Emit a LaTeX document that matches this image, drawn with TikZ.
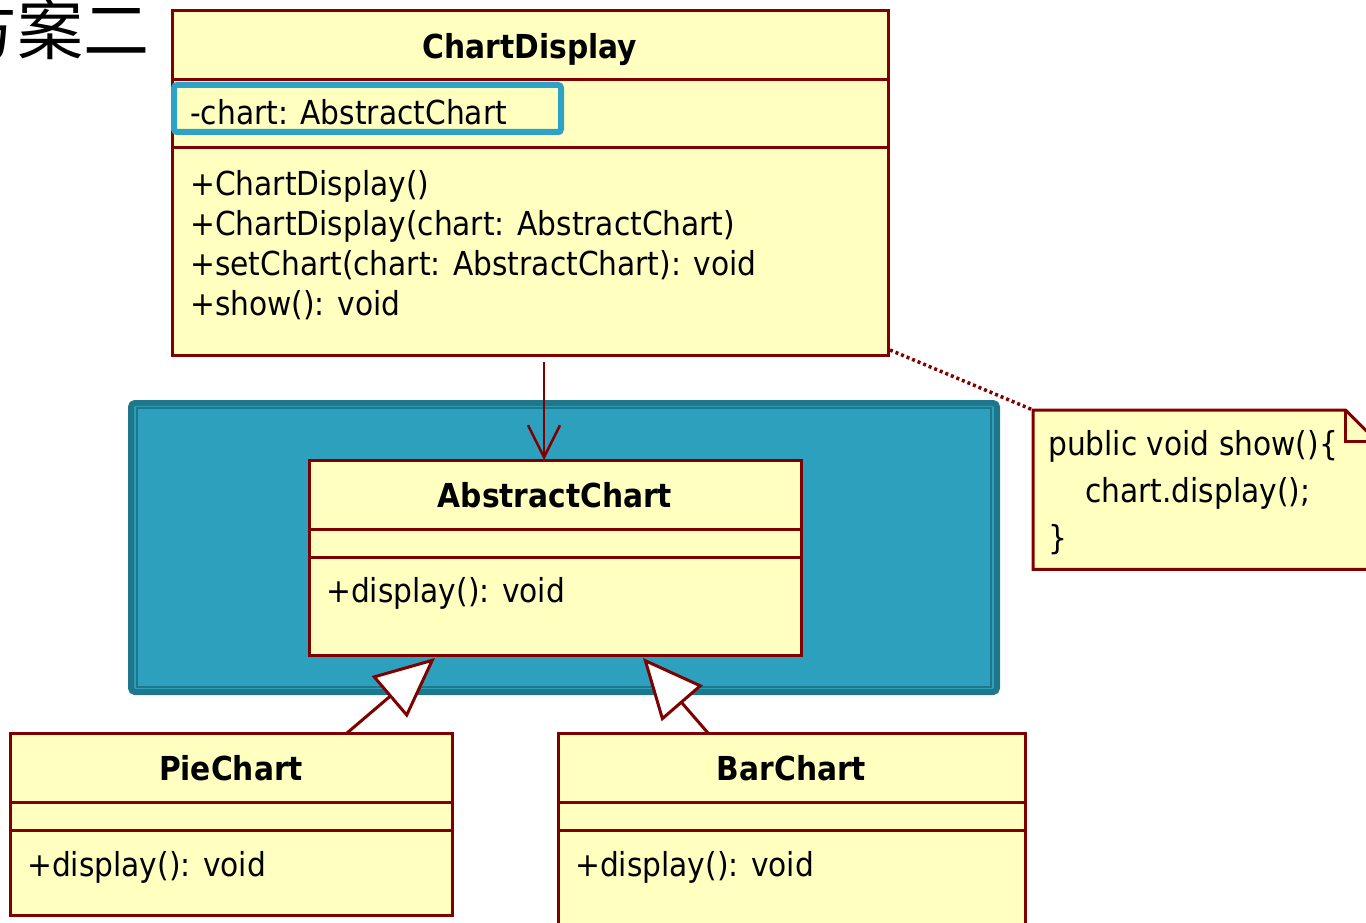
\documentclass[tikz,border=0pt]{standalone}
\usepackage{fontspec}
\setmainfont{DejaVu Sans Condensed}
\newfontfamily\cjk{Noto Sans CJK SC}
\usetikzlibrary{positioning}
\usetikzlibrary{arrows.meta}
\usetikzlibrary{shadows}
\definecolor{umlred}{HTML}{800000}
\definecolor{umlfill}{HTML}{FFFFC0}
\definecolor{pkgfill}{HTML}{2DA0BE}
\definecolor{pkgdark}{HTML}{1F778B}
\definecolor{hilite}{HTML}{2EA2C4}
\tikzset{
classpart/.style={ % One compartment of a class box
draw=umlred, line width=3pt,
fill=umlfill,
inner sep=0pt, outer sep=0pt},
classname/.style={classpart, % Top compartment with the bold name
minimum height=69pt,
text depth=0pt,
font=\fontsize{33}{40}\selectfont\bfseries},
member/.style={ % Attribute and operation texts
inner sep=0pt,
align=left,
font=\fontsize{33}{40}\selectfont},
depend/.style={ % Association arrow
draw=umlred, line width=2.5pt,
-{Straight Barb[length=32pt, width=32pt, line width=2.5pt]}},
inherit/.style={ % Generalisation arrow
draw=umlred, line width=3pt,
-{Triangle[length=60pt, width=54pt, fill=white, line width=3pt]}},
notelink/.style={ % Note anchor line
draw=umlred, line width=3.5pt,
dash pattern=on 3pt off 3pt}}

\begin{document}
\begin{tikzpicture}[x=1pt, y=-1pt]
\useasboundingbox (0,0) rectangle (1366,923);

\node[anchor=base east, font=\cjk\fontsize{66}{70}\selectfont, inner sep=0pt] (title) at (150,55) {方案二};

% package frame
\node[draw=pkgdark, line width=6pt, fill=pkgfill, rounded corners=4pt,
minimum width=866pt, minimum height=289pt, anchor=north west] (pkg) at (128,400) {};
\draw[pkgdark, line width=2pt] ([shift={(9pt,-8pt)}]pkg.north west) rectangle ([shift={(-9pt,8pt)}]pkg.south east);

% ChartDisplay
\node[classname, minimum width=716pt, anchor=north west] (cdname) at (172,11) {ChartDisplay};
\node[classpart, minimum width=716pt, minimum height=68pt, below=0pt of cdname] (cdattr) {};
\node[classpart, minimum width=716pt, minimum height=207pt, below=0pt of cdattr] (cdops) {};
\draw[hilite, fill=umlfill, line width=6pt, rounded corners=3pt,
drop shadow={opacity=0.35, shadow xshift=2pt, shadow yshift=-3pt}] (174,85) rectangle (561,132);
\node[member, anchor=base west] (cdattrtext) at (190,125) {-chart: AbstractChart};
\node[member, anchor=north west] (cdopstext) at (190,170) {+ChartDisplay()\\+ChartDisplay(chart: AbstractChart)\\+setChart(chart: AbstractChart): void\\+show(): void};

% AbstractChart
\node[classname, minimum width=492pt, anchor=north west] (acname) at (309,460) {AbstractChart};
\node[classpart, minimum width=492pt, minimum height=28pt, below=0pt of acname] (acattr) {};
\node[classpart, minimum width=492pt, minimum height=98pt, below=0pt of acattr] (acops) {};
\node[member, anchor=base west] (acopstext) at (326,602) {+display(): void};

% PieChart
\node[classname, minimum width=442pt, anchor=north west] (pcname) at (10,733) {PieChart};
\node[classpart, minimum width=442pt, minimum height=28pt, below=0pt of pcname] (pcattr) {};
\node[classpart, minimum width=442pt, minimum height=85pt, below=0pt of pcattr] (pcops) {};
\node[member, anchor=base west] (pcopstext) at (27,876) {+display(): void};

% BarChart
\node[classname, minimum width=467pt, anchor=north west] (bcname) at (558,733) {BarChart};
\node[classpart, minimum width=467pt, minimum height=28pt, below=0pt of bcname] (bcattr) {};
\node[classpart, minimum width=467pt, minimum height=120pt, below=0pt of bcattr] (bcops) {};
\node[member, anchor=base west] (bcopstext) at (575,876) {+display(): void};

% note
\node[minimum width=345pt, minimum height=159pt, inner sep=0pt, anchor=north west] (note) at (1033,410) {};
\draw[umlred, line width=3pt, fill=umlfill] (note.north west) -- ([xshift=-33pt]note.north east)
-- ([yshift=-33pt]note.north east) -- (note.south east) -- (note.south west) -- cycle;
\draw[umlred, line width=3pt] ([xshift=-33pt]note.north east) -- ([shift={(-33pt,-31pt)}]note.north east) -- ([yshift=-31pt]note.north east);
\node[member, anchor=north west, font=\fontsize{33}{47}\selectfont] (notetext) at (1048,430) {public void show()\{\\\hspace{37pt}chart.display();\\\}};

% connectors
\coordinate (depx) at (544,0);
\draw[depend] ([yshift=-7pt]cdops.south -| depx) -- (acname.north -| depx);
\draw[notelink] ([shift={(2pt,5pt)}]cdops.south east) -- (note.north west);
\draw[inherit] ([xshift=337pt]pcname.north west) -- ([shift={(126pt,-3pt)}]acops.south west);
\draw[inherit] ([xshift=150pt]bcname.north west) -- ([shift={(334pt,-3pt)}]acops.south west);
\end{tikzpicture}
\end{document}
